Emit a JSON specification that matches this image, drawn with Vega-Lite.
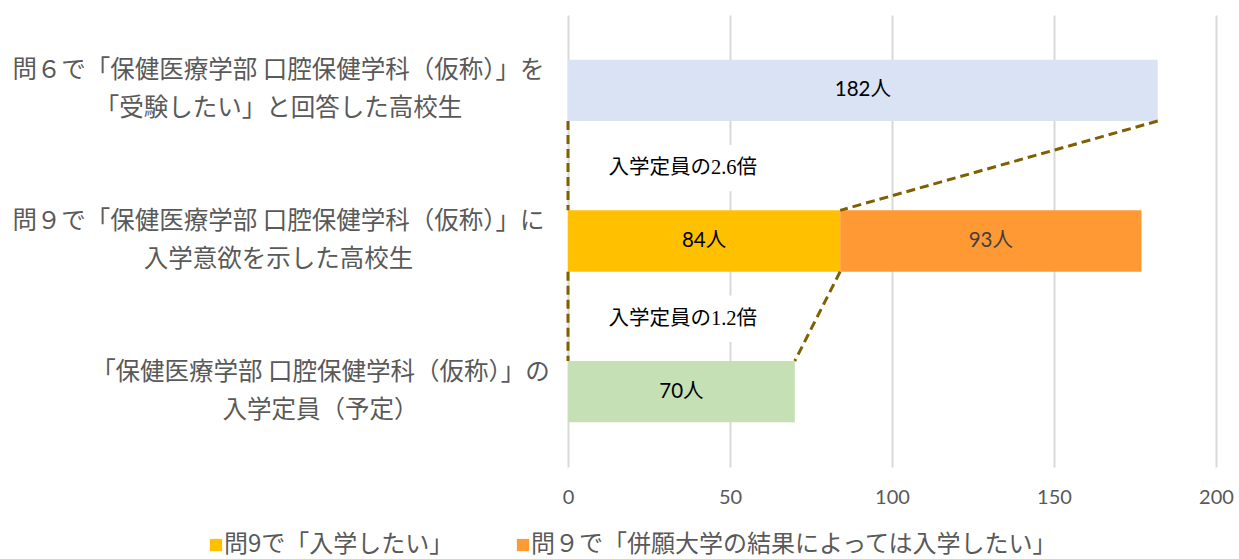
{
  "$schema": "https://vega.github.io/schema/vega-lite/v6.json",
  "width": 648,
  "height": 452,
  "autosize": {"type": "none"},
  "padding": {"left": 568, "top": 15, "right": 23, "bottom": 92},
  "background": "white",
  "config": {"view": {"stroke": null}, "font": "Noto Sans CJK JP"},
  "datasets": {
    "bars": [
      {"cat": "問６で「保健医療学部 口腔保健学科（仮称）」を|「受験したい」と回答した高校生", "series": "受験したい", "value": 182, "ord": 1, "label": "182人"},
      {"cat": "問９で「保健医療学部 口腔保健学科（仮称）」に|入学意欲を示した高校生", "series": "問9で「入学したい」", "value": 84, "ord": 1, "label": "84人"},
      {"cat": "問９で「保健医療学部 口腔保健学科（仮称）」に|入学意欲を示した高校生", "series": "問９で「併願大学の結果によっては入学したい」", "value": 93, "ord": 2, "label": "93人"},
      {"cat": "「保健医療学部 口腔保健学科（仮称）」の|入学定員（予定）", "series": "入学定員", "value": 70, "ord": 1, "label": "70人"}
    ],
    "links": [
      {"from": "問６で「保健医療学部 口腔保健学科（仮称）」を|「受験したい」と回答した高校生", "to": "問９で「保健医療学部 口腔保健学科（仮称）」に|入学意欲を示した高校生", "xa": 0, "xb": 0},
      {"from": "問６で「保健医療学部 口腔保健学科（仮称）」を|「受験したい」と回答した高校生", "to": "問９で「保健医療学部 口腔保健学科（仮称）」に|入学意欲を示した高校生", "xa": 182, "xb": 84},
      {"from": "問９で「保健医療学部 口腔保健学科（仮称）」に|入学意欲を示した高校生", "to": "「保健医療学部 口腔保健学科（仮称）」の|入学定員（予定）", "xa": 0, "xb": 0},
      {"from": "問９で「保健医療学部 口腔保健学科（仮称）」に|入学意欲を示した高校生", "to": "「保健医療学部 口腔保健学科（仮称）」の|入学定員（予定）", "xa": 84, "xb": 70}
    ],
    "notes": [
      {"from": "問６で「保健医療学部 口腔保健学科（仮称）」を|「受験したい」と回答した高校生", "to": "問９で「保健医療学部 口腔保健学科（仮称）」に|入学意欲を示した高校生", "x": 12.5, "text": "入学定員の2.6倍"},
      {"from": "問９で「保健医療学部 口腔保健学科（仮称）」に|入学意欲を示した高校生", "to": "「保健医療学部 口腔保健学科（仮称）」の|入学定員（予定）", "x": 12.5, "text": "入学定員の1.2倍"}
    ]
  },
  "layer": [
    {
      "data": {"name": "bars"},
      "mark": {"type": "bar"},
      "encoding": {
        "y": {
          "field": "cat", "type": "nominal",
          "scale": {"type": "band", "domain": [
            "問６で「保健医療学部 口腔保健学科（仮称）」を|「受験したい」と回答した高校生",
            "問９で「保健医療学部 口腔保健学科（仮称）」に|入学意欲を示した高校生",
            "「保健医療学部 口腔保健学科（仮称）」の|入学定員（予定）"
          ], "paddingInner": 0.593, "paddingOuter": 0.2965},
          "axis": {
            "title": null, "domain": false, "ticks": false,
            "labelFontSize": 24.5, "labelColor": "#595959", "labelFont": "Noto Sans CJK JP",
            "labelLimit": 800, "labelAlign": "center", "labelLineHeight": 38,
            "labelOffset": -19,
            "labelPadding": {"condition": {"test": "indexof(datum.value, '「保健') === 0", "value": 248}, "value": 290},
            "labelExpr": "split(datum.label, '|')"
          }
        },
        "x": {
          "field": "value", "type": "quantitative", "stack": "zero",
          "scale": {"domain": [0, 200]},
          "axis": {"title": null, "domain": false, "ticks": false, "values": [0, 50, 100, 150, 200], "labelFlush": false, "labelFontSize": 20, "labelColor": "#595959", "labelFont": "Lato", "gridColor": "#D9D9D9", "gridWidth": 2, "labelPadding": 20}
        },
        "color": {
          "field": "series", "type": "nominal",
          "scale": {"domain": ["受験したい", "問9で「入学したい」", "問９で「併願大学の結果によっては入学したい」", "入学定員"], "range": ["#DAE3F3", "#FFC000", "#FF9933", "#C5E0B4"]},
          "legend": {"orient": "none", "legendX": -364, "legendY": 518, "direction": "horizontal", "title": null, "padding": 0, "values": ["問9で「入学したい」", "問９で「併願大学の結果によっては入学したい」"], "symbolType": "square", "symbolSize": 150, "symbolStrokeWidth": 0, "labelFontSize": 24, "labelColor": "#595959", "labelFont": "Noto Sans CJK JP", "columnPadding": 57, "labelLimit": 800, "labelOffset": -4}
        },
        "order": {"field": "ord"}
      }
    },
    {
      "data": {"name": "bars"},
      "mark": {"type": "text", "font": "Lato, Noto Sans CJK JP", "fontSize": 20.5, "baseline": "middle"},
      "encoding": {
        "y": {"field": "cat", "type": "nominal"},
        "x": {"field": "value", "type": "quantitative", "stack": "zero", "bandPosition": 0.5},
        "detail": {"field": "series"},
        "order": {"field": "ord"},
        "text": {"field": "label"},
        "color": {"condition": {"test": "datum.ord === 2", "value": "#404040"}, "value": "#000000"}
      }
    },
    {
      "data": {"name": "notes"},
      "mark": {"type": "rule", "color": "white", "strokeWidth": 5},
      "encoding": {
        "x": {"datum": 50},
        "y": {"field": "from", "type": "nominal", "bandPosition": 1.39},
        "y2": {"field": "to", "bandPosition": -0.31}
      }
    },
    {
      "data": {"name": "links"},
      "mark": {"type": "rule", "color": "#7F6000", "strokeWidth": 3, "strokeDash": [9, 5]},
      "encoding": {
        "x": {"field": "xa", "type": "quantitative"},
        "x2": {"field": "xb"},
        "y": {"field": "from", "type": "nominal", "bandPosition": 1},
        "y2": {"field": "to", "bandPosition": 0}
      }
    },
    {
      "data": {"name": "notes"},
      "mark": {"type": "text", "font": "Liberation Serif, Noto Sans CJK JP", "fontSize": 20.5, "align": "left", "baseline": "middle", "dy": 47, "color": "#000000"},
      "encoding": {
        "x": {"field": "x", "type": "quantitative"},
        "y": {"field": "from", "type": "nominal", "bandPosition": 1},
        "text": {"field": "text"}
      }
    }
  ]
}
